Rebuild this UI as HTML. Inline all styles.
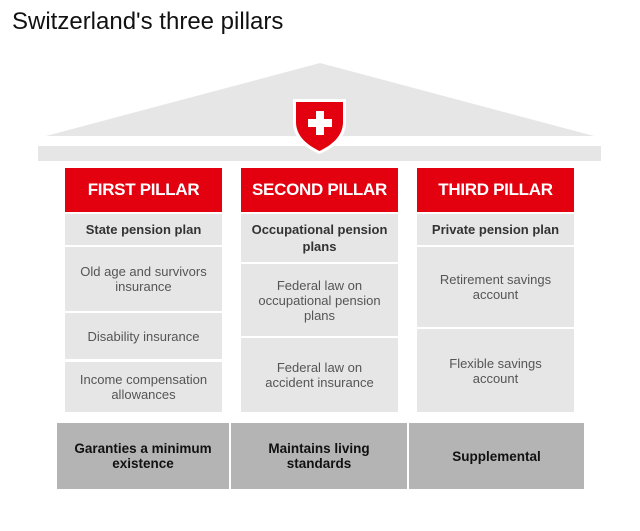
<!DOCTYPE html>
<html><head><meta charset="utf-8"><style>
*{margin:0;padding:0;box-sizing:border-box}
body{width:640px;height:531px;background:#fff;position:relative;font-family:"Liberation Sans","DejaVu Sans",sans-serif;overflow:hidden}
.a{position:absolute}
.t{position:absolute;left:12px;top:8px;font-size:24px;color:#111}
.h{position:absolute;background:#e3000f;color:#fff;font-weight:bold;font-size:17px;display:flex;align-items:center;justify-content:center;top:168px;height:44px;width:157px;letter-spacing:-0.3px}
.c{position:absolute;background:#e6e6e6;display:flex;align-items:center;justify-content:center;text-align:center;font-size:13px;line-height:15px;color:#555;padding:0 4px;white-space:nowrap}
.s{color:#333;font-weight:bold;font-size:13px}
.b{position:absolute;background:#b4b4b4;display:flex;align-items:center;justify-content:center;text-align:center;font-size:13.5px;line-height:15px;color:#111;font-weight:bold;top:423px;height:66px}
</style></head><body>
<div class="t">Switzerland's three pillars</div>
<svg class="a" style="left:0;top:0" width="640" height="170">
<polygon points="320,63 46,136 594,136" fill="#e6e6e6"/>
<rect x="38" y="146" width="563" height="15" fill="#e6e6e6"/>
<path d="M293,99 L346,99 L346,122 C346,138 334,148 319.5,154 C305,148 293,138 293,122 Z" fill="#fff"/>
<path d="M296,102 L343,102 L343,122 C343,136 332,145 319.5,151 C307,145 296,136 296,122 Z" fill="#e3000f"/>
<rect x="316" y="111" width="8" height="24" fill="#fff"/>
<rect x="308" y="119" width="24" height="8" fill="#fff"/>
</svg>
<div class="h" style="left:65px">FIRST PILLAR</div>
<div class="h" style="left:241px">SECOND PILLAR</div>
<div class="h" style="left:417px">THIRD PILLAR</div>

<div class="c s" style="left:65px;top:214px;width:157px;height:31px">State pension plan</div>
<div class="c" style="left:65px;top:247px;width:157px;height:64px">Old age and survivors<br>insurance</div>
<div class="c" style="left:65px;top:313px;width:157px;height:46px">Disability insurance</div>
<div class="c" style="left:65px;top:362px;width:157px;height:50px">Income compensation<br>allowances</div>

<div class="c s" style="left:241px;top:214px;width:157px;height:48px;line-height:17px">Occupational pension<br>plans</div>
<div class="c" style="left:241px;top:264px;width:157px;height:72px">Federal law on<br>occupational pension<br>plans</div>
<div class="c" style="left:241px;top:338px;width:157px;height:74px">Federal law on<br>accident insurance</div>

<div class="c s" style="left:417px;top:214px;width:157px;height:31px">Private pension plan</div>
<div class="c" style="left:417px;top:247px;width:157px;height:80px">Retirement savings<br>account</div>
<div class="c" style="left:417px;top:329px;width:157px;height:83px">Flexible savings<br>account</div>

<div class="b" style="left:57px;width:172px">Garanties a minimum<br>existence</div>
<div class="b" style="left:231px;width:176px">Maintains living<br>standards</div>
<div class="b" style="left:409px;width:175px">Supplemental</div>
</body></html>
